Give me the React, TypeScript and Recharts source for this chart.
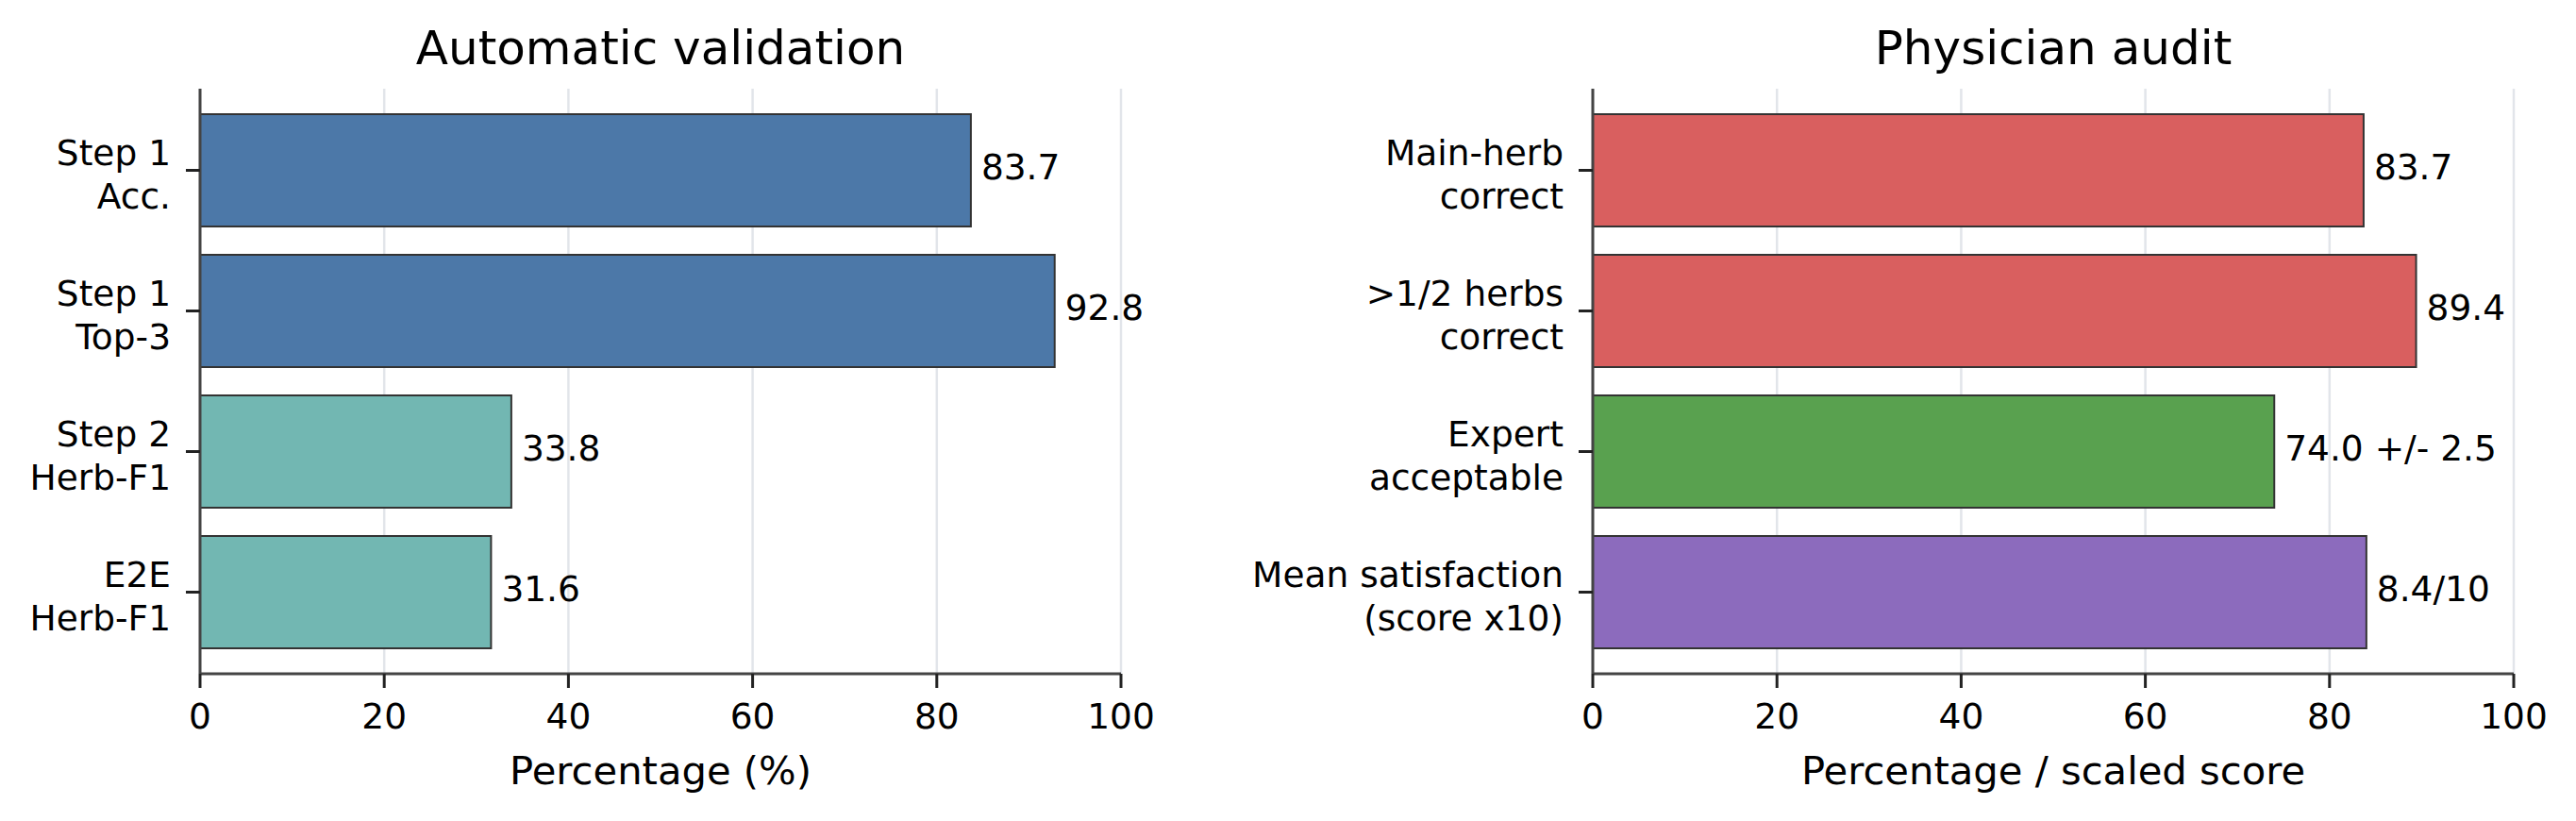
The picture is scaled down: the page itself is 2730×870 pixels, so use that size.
import { BarChart, Bar, XAxis, YAxis, CartesianGrid, Cell, LabelList } from 'recharts';

// Left panel: automatic validation metrics
const autoCategories = ['Step 1\nAcc.', 'Step 1\nTop-3', 'Step 2\nHerb-F1', 'E2E\nHerb-F1'];
const autoValues = [83.7, 92.8, 33.8, 31.6];
const autoLabels = ['83.7', '92.8', '33.8', '31.6'];
const autoColours = ['#4c78a8', '#4c78a8', '#72b7b2', '#72b7b2'];

// Right panel: physician audit (satisfaction scaled x10)
const auditCategories = ['Main-herb\ncorrect', '>1/2 herbs\ncorrect', 'Expert\nacceptable', 'Mean satisfaction\n(score x10)'];
const auditValues = [83.7, 89.4, 74.0, 84];
const auditLabels = ['83.7', '89.4', '74.0 +/- 2.5', '8.4/10'];
const auditColours = ['#d95f5f', '#d95f5f', '#59a14f', '#8c6bbd'];

const xTicks = [0, 20, 40, 60, 80, 100];

const FONT = '"DejaVu Sans", sans-serif';
const PANEL_H = 870;

function buildRows(cats: string[], vals: number[], labels: string[]) {
  return cats.map((name, i) => ({ name, value: vals[i], label: labels[i] }));
}

function CategoryTick(props: any) {
  const { x, y, payload } = props;
  const lines = String(payload.value).split('\n');
  return (
    <text x={Number(x) - 14} y={Number(y)} textAnchor='end' fontFamily={FONT} fontSize={37.5} fill='#000'>
      {lines.map((l, i) => (
        <tspan key={i} x={Number(x) - 14} y={Number(y) - 6 + i * 46}>
          {l}
        </tspan>
      ))}
    </text>
  );
}

function NumberTick(props: any) {
  const { x, y, payload } = props;
  return (
    <text x={Number(x)} y={Number(y) + 41} textAnchor='middle' fontFamily={FONT} fontSize={37.5} fill='#000'>
      {payload.value}
    </text>
  );
}

function ValueLabel(props: any) {
  const { x, y, width, height, value } = props;
  return (
    <text
      x={Number(x) + Number(width) + 11}
      y={Number(y) + Number(height) / 2 + 9.5}
      fontFamily={FONT}
      fontSize={37.5}
      fill='#000'
    >
      {value}
    </text>
  );
}

function Panel({
  rows,
  colours,
  width,
  yAxisWidth,
  rightMargin,
}: {
  rows: { name: string; value: number; label: string }[];
  colours: string[];
  width: number;
  yAxisWidth: number;
  rightMargin: number;
}) {
  return (
    <BarChart
      layout='vertical'
      width={width}
      height={PANEL_H}
      data={rows}
      margin={{ top: 94, right: rightMargin, bottom: 96, left: 0 }}
    >
      <CartesianGrid horizontal={false} stroke='#e2e5ea' strokeWidth={2.5} />
      <XAxis
        type='number'
        domain={[0, 100]}
        ticks={xTicks}
        height={60}
        tickSize={15}
        tick={<NumberTick />}
        axisLine={{ stroke: '#444', strokeWidth: 3 }}
        tickLine={{ stroke: '#222', strokeWidth: 3 }}
      />
      <YAxis
        type='category'
        dataKey='name'
        width={yAxisWidth}
        interval={0}
        padding={{ top: 12, bottom: 12 }}
        tickSize={15}
        tick={<CategoryTick />}
        axisLine={{ stroke: '#444', strokeWidth: 3 }}
        tickLine={{ stroke: '#222', strokeWidth: 3 }}
      />
      <Bar dataKey='value' barSize={119} stroke='#333' strokeWidth={2} isAnimationActive={false}>
        {rows.map((r, i) => (
          <Cell key={r.name} fill={colours[i]} />
        ))}
        <LabelList dataKey='label' content={<ValueLabel />} />
      </Bar>
    </BarChart>
  );
}

export default function App() {
  const autoRows = buildRows(autoCategories, autoValues, autoLabels);
  const auditRows = buildRows(auditCategories, auditValues, auditLabels);

  return (
    <div style={{ position: 'absolute', left: 0, top: 0, width: 2730, height: 870, background: '#fff' }}>
      <div style={{ position: 'absolute', left: 0, top: 0 }}>
        <Panel rows={autoRows} colours={autoColours} width={1365} yAxisWidth={212} rightMargin={177} />
      </div>
      {/* right panel overlaps the left one (transparent) so its long category label has room */}
      <div style={{ position: 'absolute', left: 1200, top: 0 }}>
        <Panel rows={auditRows} colours={auditColours} width={1530} yAxisWidth={488} rightMargin={66} />
      </div>
      {/* panel titles and axis titles */}
      <svg
        width={2730}
        height={870}
        style={{ position: 'absolute', left: 0, top: 0, pointerEvents: 'none' }}
        fontFamily={FONT}
      >
        <text x={700} y={68} textAnchor='middle' fontSize={50} fill='#000'>
          Automatic validation
        </text>
        <text x={2176} y={68} textAnchor='middle' fontSize={50} fill='#000'>
          Physician audit
        </text>
        <text x={700} y={831} textAnchor='middle' fontSize={41.7} fill='#000'>
          Percentage (%)
        </text>
        <text x={2176} y={831} textAnchor='middle' fontSize={41.7} fill='#000'>
          Percentage / scaled score
        </text>
      </svg>
    </div>
  );
}
